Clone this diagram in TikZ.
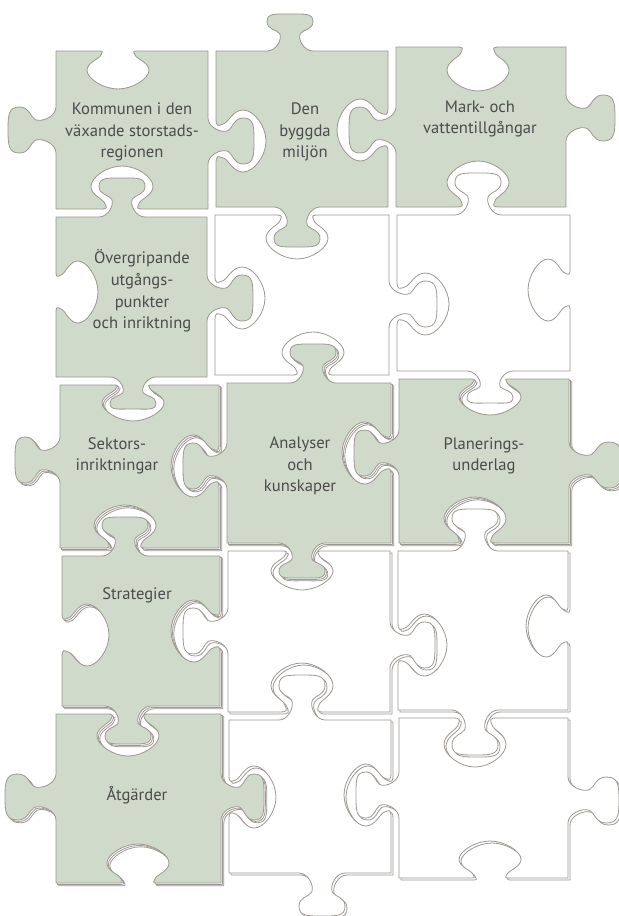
\documentclass[tikz,border=0pt]{standalone}
\usepackage{fontspec}
\setmainfont{PT Sans}
\definecolor{sage}{HTML}{CFDACB}
\definecolor{rim}{HTML}{9D9791}
\definecolor{ink}{HTML}{4B4B4B}
\tikzset{
  piece/.style={draw=rim, line width=0.4pt, line join=round},
  greenpiece/.style={piece, fill=sage},
  blankpiece/.style={piece, fill=white},
  rimlayer/.style={piece, fill=white},
  lbl/.style={font=\fontsize{8.3}{10.8}\selectfont, text=ink, align=center, inner sep=0pt},
}
\newcommand{\hpt}[6]{({#2+(#3)*(#5)},{#1+(#4)*(#6)})}
\newcommand{\vpt}[6]{({#1+(#4)*(#6)},{#2+(#3)*(#5)})}
\newcommand{\tabtpl}[3]{%
 -- #1{-23}{4*(#2)}
 .. controls #1{-14}{4*(#2)} and #1{-11-3.6*(#2)}{0.15*(#3)-1.8*(#2)}
 .. #1{-14-3.6*(#2)}{0.3*(#3)-1.8*(#2)}
 .. controls #1{-17-3.6*(#2)}{0.4*(#3)-1.8*(#2)} and #1{-27-4*(#2)}{0.45*(#3)}
 .. #1{-27-4*(#2)}{0.65*(#3)}
 .. controls #1{-27-4*(#2)}{0.87*(#3)} and #1{-15}{#3+6*(#2)}
 .. #1{0}{#3+6*(#2)}
 .. controls #1{15}{#3+6*(#2)} and #1{27+4*(#2)}{0.87*(#3)}
 .. #1{27+4*(#2)}{0.65*(#3)}
 .. controls #1{27+4*(#2)}{0.45*(#3)} and #1{17+3.6*(#2)}{0.4*(#3)-1.8*(#2)}
 .. #1{14+3.6*(#2)}{0.3*(#3)-1.8*(#2)}
 .. controls #1{11+3.6*(#2)}{0.15*(#3)-1.8*(#2)} and #1{14}{4*(#2)}
 .. #1{23}{4*(#2)}}
\newcommand{\eT}[4]{\tabtpl{\hpt{#1}{#2}{1}{#3}}{#3}{#4}}
\newcommand{\eB}[4]{\tabtpl{\hpt{#1}{#2}{-1}{#3}}{-(#3)}{#4}}
\newcommand{\eR}[4]{\tabtpl{\vpt{#1}{#2}{1}{#3}}{-(#3)}{#4}}
\newcommand{\eL}[4]{\tabtpl{\vpt{#1}{#2}{-1}{#3}}{#3}{#4}}
\newcommand{\pcs}[8]{({#1+4},{#3+4}) #5 -- ({#2-4},{#3+4}) #6 -- ({#2-4},{#4-4}) #7 -- ({#1+4},{#4-4}) #8 -- cycle}
\edef\pcKommun{\pcs{52}{212}{47}{213}{\eT{47}{118}{1}{36}}{\eR{212}{141}{1}{48}}{\eB{213}{122}{-1}{41}}{\eL{52}{130}{-1}{50}}}
\edef\pcByggd{\pcs{212}{392}{47}{211}{\eT{47}{290}{-1}{39}}{\eR{392}{130}{-1}{49}}{\eB{211}{297}{1}{42}}{\eL{212}{141}{1}{48}}}
\edef\pcMark{\pcs{392}{570}{43}{211}{\eT{43}{478}{1}{42}}{\eR{570}{118}{1}{51}}{\eB{211}{478}{-1}{44}}{\eL{392}{130}{-1}{49}}}
\edef\pcOverg{\pcs{52}{211}{213}{381}{\eT{213}{122}{-1}{41}}{\eR{211}{298}{1}{48}}{\eB{381}{133}{1}{34}}{\eL{52}{292}{1}{40}}}
\edef\pcVitA{\pcs{211}{393}{211}{379}{\eT{211}{297}{1}{42}}{\eR{393}{304}{1}{50}}{\eB{379}{313}{-1}{41}}{\eL{211}{298}{1}{48}}}
\edef\pcVitB{\pcs{393}{574}{211}{375}{\eT{211}{478}{-1}{44}}{\eR{574}{290}{-1}{40}}{\eB{375}{490}{1}{34}}{\eL{393}{304}{1}{50}}}
\edef\pcSektor{\pcs{56}{223}{381}{552}{\eT{381}{133}{1}{34}}{\eR{223}{466}{-1}{46}}{\eB{552}{125}{-1}{41}}{\eL{56}{460}{-1}{47}}}
\edef\pcAnalys{\pcs{223}{395}{379}{547}{\eT{379}{313}{-1}{41}}{\eR{395}{453}{-1}{47}}{\eB{547}{302}{1}{37}}{\eL{223}{466}{-1}{46}}}
\edef\pcPlan{\pcs{395}{573}{375}{547}{\eT{375}{490}{1}{34}}{\eR{573}{465}{1}{55}}{\eB{547}{475}{-1}{44}}{\eL{395}{453}{-1}{47}}}
\edef\pcStrat{\pcs{58}{224}{552}{710}{\eT{552}{125}{-1}{41}}{\eR{224}{631}{-1}{47}}{\eB{710}{128}{1}{40}}{\eL{58}{635}{1}{45}}}
\edef\pcVitC{\pcs{224}{394}{547}{716}{\eT{547}{302}{1}{37}}{\eR{394}{645}{1}{47}}{\eB{716}{302}{-1}{47}}{\eL{224}{631}{-1}{47}}}
\edef\pcVitD{\pcs{394}{572}{547}{714}{\eT{547}{475}{-1}{44}}{\eR{572}{626}{-1}{40}}{\eB{714}{475}{1}{47}}{\eL{394}{645}{1}{47}}}
\edef\pcAtgard{\pcs{52}{225}{710}{887}{\eT{710}{128}{1}{40}}{\eR{225}{797}{1}{45}}{\eB{887}{138}{-1}{37}}{\eL{52}{797}{-1}{53}}}
\edef\pcVitE{\pcs{225}{395}{716}{877}{\eT{716}{302}{-1}{47}}{\eR{395}{795}{-1}{45}}{\eB{877}{322}{1}{45}}{\eL{225}{797}{1}{45}}}
\edef\pcVitF{\pcs{395}{572}{714}{882}{\eT{714}{475}{1}{47}}{\eR{572}{800}{1}{53}}{\eB{882}{490}{-1}{35}}{\eL{395}{795}{-1}{45}}}
\begin{document}
\begin{tikzpicture}[x=0.5pt,y=-0.5pt]
\useasboundingbox (0,0) rectangle (618,916);
\draw[rimlayer,shift={(2.8,2.8)}] \pcSektor; \draw[rimlayer,shift={(1.4,1.4)}] \pcSektor;
\draw[rimlayer,shift={(2.8,2.8)}] \pcAnalys; \draw[rimlayer,shift={(1.4,1.4)}] \pcAnalys;
\draw[rimlayer,shift={(2.8,2.8)}] \pcPlan; \draw[rimlayer,shift={(1.4,1.4)}] \pcPlan;
\draw[rimlayer,shift={(2.8,2.8)}] \pcStrat; \draw[rimlayer,shift={(1.4,1.4)}] \pcStrat;
\draw[rimlayer,shift={(2.8,2.8)}] \pcAtgard; \draw[rimlayer,shift={(1.4,1.4)}] \pcAtgard;
\draw[rimlayer,shift={(2,2)}] \pcVitC; \draw[rimlayer,shift={(2,2)}] \pcVitD;
\draw[rimlayer,shift={(2,2)}] \pcVitE; \draw[rimlayer,shift={(2,2)}] \pcVitF;
\draw[greenpiece] \pcKommun; \draw[greenpiece] \pcByggd; \draw[greenpiece] \pcMark;
\draw[greenpiece] \pcOverg; \draw[blankpiece] \pcVitA; \draw[blankpiece] \pcVitB;
\draw[greenpiece] \pcSektor; \draw[greenpiece] \pcAnalys; \draw[greenpiece] \pcPlan;
\draw[greenpiece] \pcStrat; \draw[blankpiece] \pcVitC; \draw[blankpiece] \pcVitD;
\draw[greenpiece] \pcAtgard; \draw[blankpiece] \pcVitE; \draw[blankpiece] \pcVitF;
\node[lbl] (kommun) at (132,132) {Kommunen i den\\växande storstads-\\regionen};
\node[lbl] (byggd) at (305,132) {Den\\byggda\\miljön};
\node[lbl] (mark) at (480,119) {Mark- och\\vattentillgångar};
\node[lbl] (overg) at (142,291) {Övergripande\\utgångs-\\punkter\\och inriktning};
\node[lbl] (sektor) at (117,456) {Sektors-\\inriktningar};
\node[lbl] (analys) at (300,466) {Analyser\\och\\kunskaper};
\node[lbl] (plan) at (484,456) {Planerings-\\underlag};
\node[lbl] (strat) at (137,595) {Strategier};
\node[lbl] (atgard) at (137,795) {Åtgärder};
\end{tikzpicture}
\end{document}
